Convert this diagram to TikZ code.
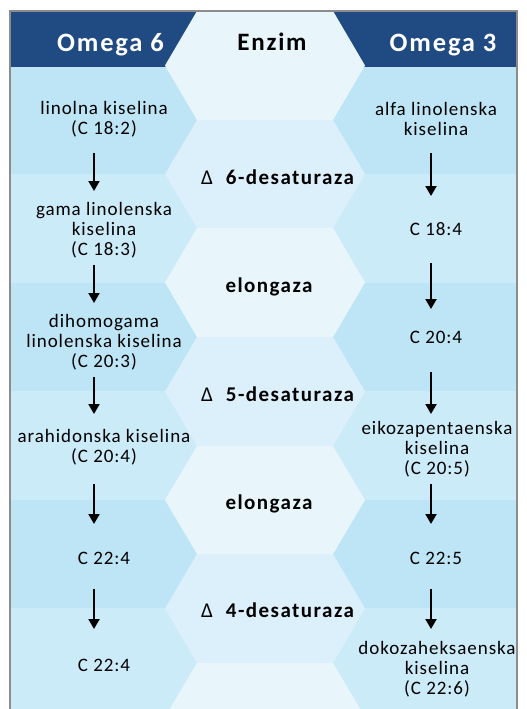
\documentclass[tikz,border=0pt]{standalone}
\usepackage{fontspec}
\setmainfont{Carlito}[LetterSpace=5]
\newfontfamily\hdrfont{Carlito}[LetterSpace=7]
\usetikzlibrary{arrows.meta}
\definecolor{hdrblue}{HTML}{1F4A82}
\definecolor{rowdark}{HTML}{BDE5F6}
\definecolor{rowlight}{HTML}{CCEBF8}
\definecolor{hexlight}{HTML}{E8F6FC}
\definecolor{hexmid}{HTML}{DBF0FA}
\definecolor{framegray}{HTML}{8C8C8C}
\newcommand\hexcell[3]{%
  \fill[#3] (197,#1) -- (333,#1) -- (365,{(#1+#2)/2}) -- (333,#2) -- (197,#2) -- (165,{(#1+#2)/2}) -- cycle;}
\begin{document}
\begin{tikzpicture}[x=1pt,y=-1pt,
  txt/.style={font=\fontsize{19}{20}\selectfont, align=center, inner sep=0pt, anchor=base, text=black},
  hdr/.style={font=\hdrfont\bfseries\fontsize{25}{28}\selectfont, inner sep=0pt, anchor=base},
  omg/.style={font=\hdrfont\bfseries\fontsize{26.5}{28}\selectfont, inner sep=0pt, anchor=base, text=white},
  enz/.style={font=\hdrfont\fontsize{21}{24}\selectfont, inner sep=0pt, anchor=base, text=black},
  flow/.style={-{Triangle[width=11pt,length=10pt]}, line width=2pt, black}]
\useasboundingbox (0,0) rectangle (527,709);
\begin{scope}
\clip (0,0) rectangle (527,709);
% header and rows
\fill[hdrblue] (10,11) rectangle (517,67);
\fill[rowdark] (10,67) rectangle (517,174);
\fill[rowlight] (10,174) rectangle (517,283);
\fill[rowdark] (10,283) rectangle (517,391);
\fill[rowlight] (10,391) rectangle (517,500);
\fill[rowdark] (10,500) rectangle (517,608);
\fill[rowlight] (10,608) rectangle (517,720);
% centre hexagons
\hexcell{11}{120}{hexlight}
\hexcell{120}{228}{hexmid}
\hexcell{228}{337}{hexlight}
\hexcell{337}{446}{hexmid}
\hexcell{446}{554}{hexlight}
\hexcell{554}{663}{hexmid}
\hexcell{663}{771}{hexlight}
\end{scope}
% header texts
\node[omg] (om6) at (110.5,51.5) {Omega 6};
\node[hdr, text=black] (enz) at (272,50.7) {Enzim};
\node[omg] (om3) at (443,51.5) {Omega 3};
% enzymes
\node[enz] (e1) at (277.5,184) {Δ\hspace{13pt}\bfseries 6-desaturaza};
\node[enz] (e2) at (269,292) {\bfseries elongaza};
\node[enz] (e3) at (277.5,401) {Δ\hspace{13pt}\bfseries 5-desaturaza};
\node[enz] (e4) at (269,509) {\bfseries elongaza};
\node[enz] (e5) at (277.5,617) {Δ\hspace{13pt}\bfseries 4-desaturaza};
% omega 6 column (anchor = baseline of last line)
\node[txt] (l1) at (104,134) {linolna kiselina\\(C 18:2)};
\node[txt] (l2) at (104,255) {gama linolenska\\kiselina\\(C 18:3)};
\node[txt] (l3) at (104,367) {dihomogama\\linolenska kiselina\\(C 20:3)};
\node[txt] (l4) at (104,462) {arahidonska kiselina\\(C 20:4)};
\node[txt] (l5) at (104,564) {C 22:4};
\node[txt] (l6) at (104,671.5) {C 22:4};
% omega 3 column
\node[txt] (r1) at (436,135) {alfa linolenska\\kiselina};
\node[txt] (r2) at (436,235) {C 18:4};
\node[txt] (r3) at (436,343) {C 20:4};
\node[txt] (r4) at (437,474.5) {eikozapentaenska\\kiselina\\(C 20:5)};
\node[txt] (r5) at (436,564) {C 22:5};
\node[txt] (r6) at (437,694) {dokozaheksaenska\\kiselina\\(C 22:6)};
% arrow end points
\coordinate (la1) at (94,153); \coordinate (lb1) at (94,191);
\coordinate (la2) at (94,265); \coordinate (lb2) at (94,303);
\coordinate (la3) at (94,377); \coordinate (lb3) at (94,414);
\coordinate (la4) at (94,484); \coordinate (lb4) at (94,524);
\coordinate (la5) at (94,589); \coordinate (lb5) at (94,629);
\coordinate (ra1) at (431,153); \coordinate (rb1) at (431,196);
\coordinate (ra2) at (431,263); \coordinate (rb2) at (431,309);
\coordinate (ra3) at (431,372); \coordinate (rb3) at (431,414);
\coordinate (ra4) at (431,484); \coordinate (rb4) at (431,524);
\coordinate (ra5) at (431,589); \coordinate (rb5) at (431,629);
\foreach \i in {1,...,5} {
  \draw[flow] (la\i) -- (lb\i);
  \draw[flow] (ra\i) -- (rb\i);
}
% frame
\draw[framegray, line width=2.5pt] (10,740) -- (10,11) -- (517,11) -- (517,740);
\end{tikzpicture}
\end{document}
